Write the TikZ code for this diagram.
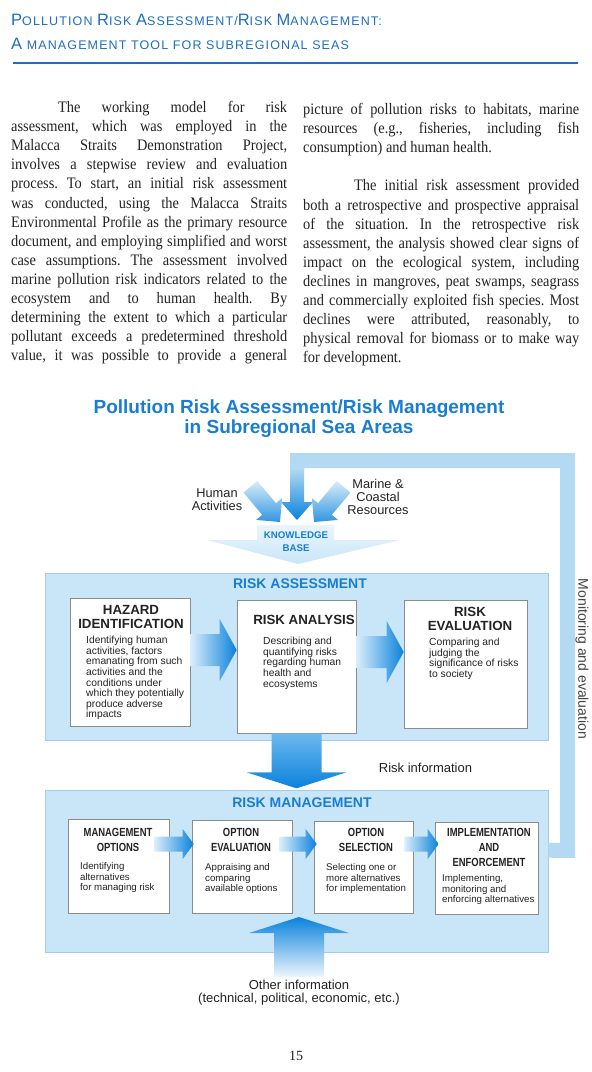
\documentclass[tikz,border=0pt]{standalone}
\usepackage{fontspec}
\setmainfont{Liberation Serif}
\newfontfamily\bodyfont[FakeStretch=0.9]{Liberation Serif}
\newfontfamily\headfont[LetterSpace=9]{Liberation Sans}
\newfontfamily\diagfont{Liberation Sans}
\newfontfamily\condfont[FakeStretch=0.8]{Liberation Sans}
\usetikzlibrary{positioning,calc}
\definecolor{headblue}{RGB}{30,110,190}
\definecolor{titleblue}{RGB}{25,125,210}
\definecolor{panelblue}{RGB}{201,230,248}
\definecolor{paneledge}{RGB}{160,205,235}
\definecolor{loopblue}{RGB}{180,218,243}
\definecolor{arrowblue}{RGB}{10,130,220}
\definecolor{arrowmid}{RGB}{110,185,238}
\definecolor{arrowpale}{RGB}{220,238,251}
\definecolor{inkgray}{RGB}{35,35,35}

% one justified line of a text column
\newcommand{\jline}[1]{\hbox to 276pt{#1}}
% large initial of the small-caps heading
\newcommand{\hcap}[1]{{\fontsize{16.5}{18}\selectfont #1}}
% block arrows: start, tip, head length, half stem, half head (+ colours)
\newcommand{\hblock}[5]{%
  \shade[left color=arrowpale, right color=arrowblue]
    ($(#1)+(0,-#4)$) -- ($(#2)+(-#3,-#4)$) -- ($(#2)+(-#3,-#5)$) -- (#2)
    -- ($(#2)+(-#3,#5)$) -- ($(#2)+(-#3,#4)$) -- ($(#1)+(0,#4)$) -- cycle;}
\newcommand{\downblock}[7]{%
  \shade[top color=#6, bottom color=#7]
    ($(#1)+(-#4,0)$) -- ($(#2)+(-#4,-#3)$) -- ($(#2)+(-#5,-#3)$) -- (#2)
    -- ($(#2)+(#5,-#3)$) -- ($(#2)+(#4,-#3)$) -- ($(#1)+(#4,0)$) -- cycle;}
\newcommand{\upblock}[7]{%
  \shade[top color=#6, bottom color=#7]
    ($(#1)+(-#4,0)$) -- ($(#2)+(-#4,#3)$) -- ($(#2)+(-#5,#3)$) -- (#2)
    -- ($(#2)+(#5,#3)$) -- ($(#2)+(#4,#3)$) -- ($(#1)+(#4,0)$) -- cycle;}

\begin{document}
\begin{tikzpicture}[x=1pt, y=-1pt,
    bodytext/.style={font=\bodyfont\fontsize{16}{19.08}\selectfont\frenchspacing, text=inkgray, align=left, inner sep=0pt},
    headtext/.style={font=\headfont\fontsize{12.5}{14}\selectfont, text=headblue, inner sep=0pt},
    panel/.style={fill=panelblue, draw=paneledge, line width=0.6pt, inner sep=0pt},
    whitebox/.style={fill=white, draw=black!45, line width=0.6pt, inner sep=0pt},
    sectitle/.style={font=\diagfont\bfseries\fontsize{14}{14}\selectfont, text=titleblue, inner sep=0pt},
    boxtitle/.style={font=\diagfont\bfseries\fontsize{13.3}{14}\selectfont, text=inkgray, align=center, inner sep=0pt},
    boxtext/.style={font=\diagfont\fontsize{10.3}{10.6}\selectfont, text=inkgray, align=left, inner sep=0pt},
    mtitle/.style={font=\condfont\bfseries\fontsize{11.8}{14.7}\selectfont, text=inkgray, align=center, inner sep=0pt},
    mtext/.style={font=\diagfont\fontsize{9.7}{10.5}\selectfont, text=inkgray, align=left, inner sep=0pt},
    plain/.style={font=\diagfont\fontsize{12.8}{12.7}\selectfont, text=inkgray, align=center, inner sep=0pt}]
    \useasboundingbox (0,0) rectangle (592,1072);
    \fill[white] (0,0) rectangle (592,1072);

    % page heading
    \node[headtext, anchor=base west] (head1) at (11,25) {\hcap{P}OLLUTION \hcap{R}ISK \hcap{A}SSESSMENT/\hcap{R}ISK \hcap{M}ANAGEMENT:};
    \node[headtext, anchor=base west] (head2) at (11,49) {\hcap{A} MANAGEMENT TOOL FOR SUBREGIONAL SEAS};
    \draw[headblue, line width=1.6pt] (13,63) -- (578,63);

    % two columns of text
    \node[bodytext, anchor=north west] (leftcol) at (11,101.2) {%
        \jline{\hspace*{47pt}The working model for risk}\\
        \jline{assessment, which was employed in the}\\
        \jline{Malacca Straits Demonstration Project,}\\
        \jline{involves a stepwise review and evaluation}\\
        \jline{process. To start, an initial risk assessment}\\
        \jline{was conducted, using the Malacca Straits}\\
        \jline{Environmental Profile as the primary resource}\\
        \jline{document, and employing simplified and worst}\\
        \jline{case assumptions. The assessment involved}\\
        \jline{marine pollution risk indicators related to the}\\
        \jline{ecosystem and to human health. By}\\
        \jline{determining the extent to which a particular}\\
        \jline{pollutant exceeds a predetermined threshold}\\
        \jline{value, it was possible to provide a general}};
    \node[bodytext, anchor=north west] (rightcol) at (303,103.2) {%
        \jline{picture of pollution risks to habitats, marine}\\
        \jline{resources (e.g., fisheries, including fish}\\
        consumption) and human health.\\[19.08pt]
        \jline{\hspace*{51pt}The initial risk assessment provided}\\
        \jline{both a retrospective and prospective appraisal}\\
        \jline{of the situation. In the retrospective risk}\\
        \jline{assessment, the analysis showed clear signs of}\\
        \jline{impact on the ecological system, including}\\
        \jline{declines in mangroves, peat swamps, seagrass}\\
        \jline{and commercially exploited fish species. Most}\\
        \jline{declines were attributed, reasonably, to}\\
        \jline{physical removal for biomass or to make way}\\
        for development.};

    % diagram title
    \node[font=\diagfont\bfseries\fontsize{19}{19.5}\selectfont, text=titleblue, align=center, inner sep=0pt, anchor=north] (dtitle) at (299,400) {Pollution Risk Assessment/Risk Management\\in Subregional Sea Areas};

    % panels
    \node[panel, minimum width=503pt, minimum height=167pt] (rapanel) at (296.5,656.5) {};
    \node[panel, minimum width=503pt, minimum height=162pt] (rmpanel) at (296.5,871) {};

    % monitoring loop back to the knowledge base
    \coordinate (fbin) at ($(rmpanel.north east)+(0,53)$);
    \coordinate (fbout) at ($(fbin)+(0,15)$);
    \fill[loopblue] (fbin) -- (560,843) -- (560,468) -- (304,468) -- (304,470) -- (290,470) -- (290,453) -- (575,453) -- (575,858) -- (fbout) -- cycle;
    \downblock{297,468}{297,520}{18}{7}{16}{loopblue}{arrowblue}
    \node[font=\diagfont\fontsize{14}{14}\selectfont, text=inkgray!85, rotate=-90, inner sep=0pt] (monitor) at (582,659) {Monitoring and evaluation};

    % inputs to the knowledge base
    \node[plain, anchor=north] (human) at (217,488.3) {Human\\Activities};
    \node[plain, anchor=north] (marine) at (378,479.3) {Marine \&\\Coastal\\Resources};
    \shade[top color=loopblue!50!white, bottom color=arrowblue!85] (257.3,481.0) -- (276.0,503.2) -- (282.1,498.1) -- (280,522) -- (256.1,519.9) -- (262.2,514.8) -- (243.5,492.6) -- cycle;
    \shade[top color=loopblue!50!white, bottom color=arrowblue!85] (336.7,481.0) -- (318,503.2) -- (311.9,498.1) -- (314,522) -- (337.9,519.9) -- (331.8,514.8) -- (350.5,492.6) -- cycle;
    \shade[top color=arrowpale!60!white, bottom color=panelblue] (257,525) -- (334,525) -- (334,540) -- (400,540) -- (298,564) -- (207,540) -- (257,540) -- cycle;
    \node[font=\diagfont\bfseries\fontsize{9.7}{13}\selectfont, text=titleblue, align=center, inner sep=0pt, anchor=north] (kb) at (296,531.5) {KNOWLEDGE\\BASE};

    % risk assessment
    \node[sectitle, anchor=base] (ratitle) at (300,588) {RISK ASSESSMENT};
    \node[whitebox, minimum width=120pt, minimum height=128pt] (haz) at (130,662) {};
    \node[whitebox, minimum width=119pt, minimum height=133pt] (ana) at (296.5,666.5) {};
    \node[whitebox, minimum width=123pt, minimum height=128pt] (evl) at (465.5,664) {};
    \coordinate (arow) at (0,650);
    \coordinate (arow2) at (0,652);
    \hblock{haz.east |- arow}{ana.west |- arow}{17}{16}{31}
    \hblock{ana.east |- arow2}{evl.west |- arow2}{17}{16}{31}

    \node[boxtitle, anchor=north] (hazt) at (131,605) {HAZARD\\IDENTIFICATION};
    \node[boxtext, anchor=north west] (hazb) at (86,636) {Identifying human\\activities, factors\\emanating from such\\activities and the\\conditions under\\which they potentially\\produce adverse\\impacts};
    \node[boxtitle, anchor=base] (anat) at (304,624.5) {RISK ANALYSIS};
    \node[boxtext, anchor=north west] (anab) at (263,637) {Describing and\\quantifying risks\\regarding human\\health and\\ecosystems};
    \node[boxtitle, anchor=north] (evlt) at (470,607.5) {RISK\\EVALUATION};
    \node[boxtext, anchor=north west] (evlb) at (429,638) {Comparing and\\judging the\\significance of risks\\to society};

    % risk information down to management
    \coordinate (ritip) at ($(ana.south)+(0,55)$);
    \downblock{ana.south}{ritip}{16}{25}{50}{arrowmid}{arrowblue}
    \node[plain, font=\diagfont\fontsize{13}{13}\selectfont, anchor=base] (riskinfo) at (425.5,772.7) {Risk information};

    % risk management
    \node[sectitle, anchor=base] (rmtitle) at (302,807) {RISK MANAGEMENT};
    \node[whitebox, minimum width=101pt, minimum height=94pt] (mo) at (118.5,866) {};
    \node[whitebox, minimum width=100pt, minimum height=93pt] (oe) at (242,866.5) {};
    \node[whitebox, minimum width=99pt, minimum height=92pt] (os) at (363.5,867) {};
    \node[whitebox, minimum width=103pt, minimum height=92pt] (ie) at (486.5,868) {};
    \coordinate (mrow) at (0,844);
    \coordinate (m1s) at ($(mo.east |- mrow)+(-15,0)$);
    \coordinate (m1t) at ($(oe.west |- mrow)+(2,0)$);
    \coordinate (m2s) at ($(oe.east |- mrow)+(-13,0)$);
    \coordinate (m2t) at ($(os.west |- mrow)+(3,0)$);
    \coordinate (m3s) at ($(os.east |- mrow)+(-9,0)$);
    \coordinate (m3t) at ($(ie.west |- mrow)+(4,0)$);
    \hblock{m1s}{m1t}{11}{7.5}{15}
    \hblock{m2s}{m2t}{11}{7.5}{15}
    \hblock{m3s}{m3t}{11}{7.5}{15}

    \node[mtitle, anchor=north] (mot) at (118,828.5) {MANAGEMENT\\OPTIONS};
    \node[mtext, anchor=north west] (mob) at (80,862.4) {Identifying\\alternatives\\for managing risk};
    \node[mtitle, anchor=north] (oet) at (241,828.5) {OPTION\\EVALUATION};
    \node[mtext, anchor=north west] (oeb) at (205,863.4) {Appraising and\\comparing\\available options};
    \node[mtitle, anchor=north] (ost) at (366,828.5) {OPTION\\SELECTION};
    \node[mtext, anchor=north west] (osb) at (326,863.4) {Selecting one or\\more alternatives\\for implementation};
    \node[mtitle, anchor=north] (iet) at (489,828.5) {IMPLEMENTATION\\AND\\ENFORCEMENT};
    \node[mtext, anchor=north west] (ieb) at (442,874.4) {Implementing,\\monitoring and\\enforcing alternatives};

    % other information up into management
    \node[plain, font=\diagfont\fontsize{13}{13}\selectfont, anchor=north] (other) at (299,980) {Other information\\(technical, political, economic, etc.)};
    \coordinate (obase) at ($(other.north)+(0,-3)$);
    \coordinate (otip) at ($(obase)+(0,-60)$);
    \upblock{obase}{otip}{16}{25}{50}{arrowblue}{arrowpale!50!white}

    \node[font=\fontsize{14}{14}\selectfont, text=inkgray, anchor=base] (pageno) at (296,1060) {15};
\end{tikzpicture}
\end{document}
